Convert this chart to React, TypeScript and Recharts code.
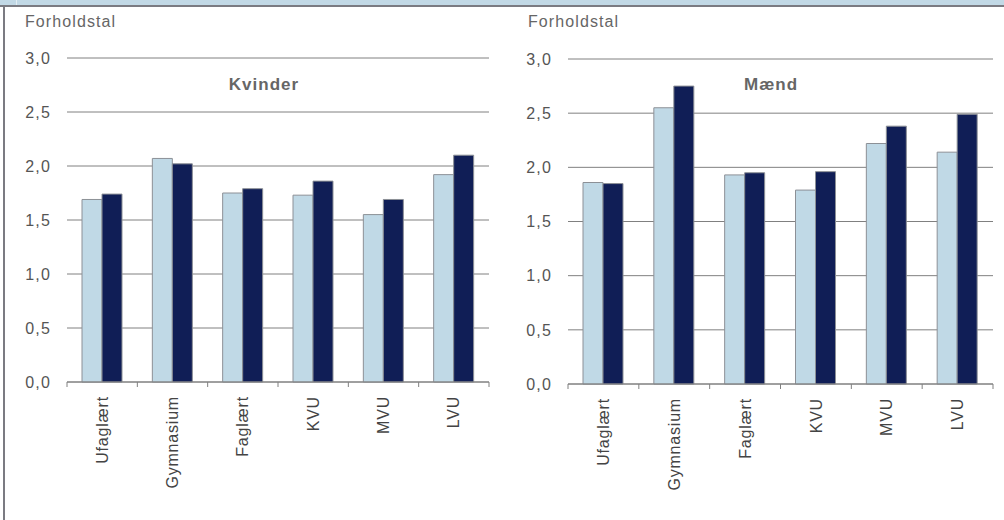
import { BarChart, Bar, XAxis, YAxis, CartesianGrid } from 'recharts';

// Uddannelsesgrupper
const categories = ['Ufaglært', 'Gymnasium', 'Faglært', 'KVU', 'MVU', 'LVU'];

// Kvinder - lys og mørk serie
const kvinderLys = [1.69, 2.07, 1.75, 1.73, 1.55, 1.92];
const kvinderMoerk = [1.74, 2.02, 1.79, 1.86, 1.69, 2.1];

// Mænd - lys og mørk serie
const maendLys = [1.86, 2.55, 1.93, 1.79, 2.22, 2.14];
const maendMoerk = [1.85, 2.75, 1.95, 1.96, 2.38, 2.49];

const yTicks = [0, 0.5, 1, 1.5, 2, 2.5, 3];

const kvinderData = categories.map((c, i) => ({ name: c, lys: kvinderLys[i], moerk: kvinderMoerk[i] }));
const maendData = categories.map((c, i) => ({ name: c, lys: maendLys[i], moerk: maendMoerk[i] }));

const font = '"Liberation Sans", Arial, sans-serif';
const fmt = (v: number) => v.toFixed(1).replace('.', ',');

const makeTick = (bandWidth: number) => (props: any) => {
  const { x, y, payload, index } = props;
  const left = x - bandWidth / 2;
  return (
    <g>
      <line x1={left} y1={y} x2={left} y2={y + 5} stroke="#808080" />
      {index === categories.length - 1 && (
        <line x1={x + bandWidth / 2} y1={y} x2={x + bandWidth / 2} y2={y + 5} stroke="#808080" />
      )}
      <text
        x={x}
        y={y + 14}
        dy="0.35em"
        transform={`rotate(-90, ${x}, ${y + 14})`}
        textAnchor="end"
        fontSize={16}
        letterSpacing={0.8}
        fill="#444"
        fontFamily={font}
      >
        {payload.value}
      </text>
    </g>
  );
};

function Panel({ data, margin, bandWidth }: { data: any[]; margin: any; bandWidth: number }) {
  return (
    <BarChart width={500} height={520} data={data} margin={margin} barGap={0} barSize={20}>
      <CartesianGrid vertical={false} stroke="#808080" />
      <XAxis
        dataKey="name"
        height={100}
        interval={0}
        tickSize={0}
        tickMargin={0}
        tickLine={false}
        axisLine={{ stroke: '#808080' }}
        tick={makeTick(bandWidth)}
      />
      <YAxis
        width={40}
        domain={[0, 3]}
        ticks={yTicks}
        tickFormatter={fmt}
        axisLine={false}
        tickLine={false}
        tickSize={0}
        tickMargin={16}
        tick={{ fontSize: 16, fill: '#555', fontFamily: font, letterSpacing: 1.2 }}
      />
      <Bar dataKey="lys" fill="#c0d9e6" stroke="#8c9096" isAnimationActive={false} />
      <Bar dataKey="moerk" fill="#101e56" stroke="#8c9096" isAnimationActive={false} />
    </BarChart>
  );
}

const labelStyle: React.CSSProperties = {
  position: 'absolute',
  fontFamily: font,
  fontSize: 16,
  letterSpacing: 1.1,
  color: '#666',
  whiteSpace: 'nowrap',
};

const titleStyle: React.CSSProperties = {
  position: 'absolute',
  fontFamily: font,
  fontSize: 17,
  fontWeight: 'bold',
  letterSpacing: 1,
  color: '#666',
  width: 200,
  textAlign: 'center',
};

export default function App() {
  return (
    <div style={{ position: 'absolute', left: 0, top: 0, width: 1004, height: 520, background: '#fff', overflow: 'hidden' }}>
      {/* top band and frame */}
      <div style={{ position: 'absolute', left: 0, top: 0, width: 1004, height: 5, background: '#c2d9e6' }} />
      <div style={{ position: 'absolute', left: 16, top: 0, width: 1, height: 5, background: '#e2edf3' }} />
      <div style={{ position: 'absolute', left: 0, top: 5, width: 1004, height: 2, background: '#7b7b82' }} />
      <div style={{ position: 'absolute', left: 3, top: 5, width: 2, height: 515, background: '#7b7b82' }} />

      <div style={{ position: 'absolute', left: 0, top: 0 }}>
        <Panel data={kvinderData} margin={{ top: 58, right: 11, left: 27, bottom: 38 }} bandWidth={422 / 6} />
      </div>
      <div style={{ position: 'absolute', left: 500, top: 0 }}>
        <Panel data={maendData} margin={{ top: 59, right: 7, left: 28, bottom: 36 }} bandWidth={425 / 6} />
      </div>

      <div style={{ ...labelStyle, left: 25, top: 13 }}>Forholdstal</div>
      <div style={{ ...labelStyle, left: 528, top: 13 }}>Forholdstal</div>
      <div style={{ ...titleStyle, left: 164, top: 75 }}>Kvinder</div>
      <div style={{ ...titleStyle, left: 671, top: 75 }}>Mænd</div>
    </div>
  );
}
